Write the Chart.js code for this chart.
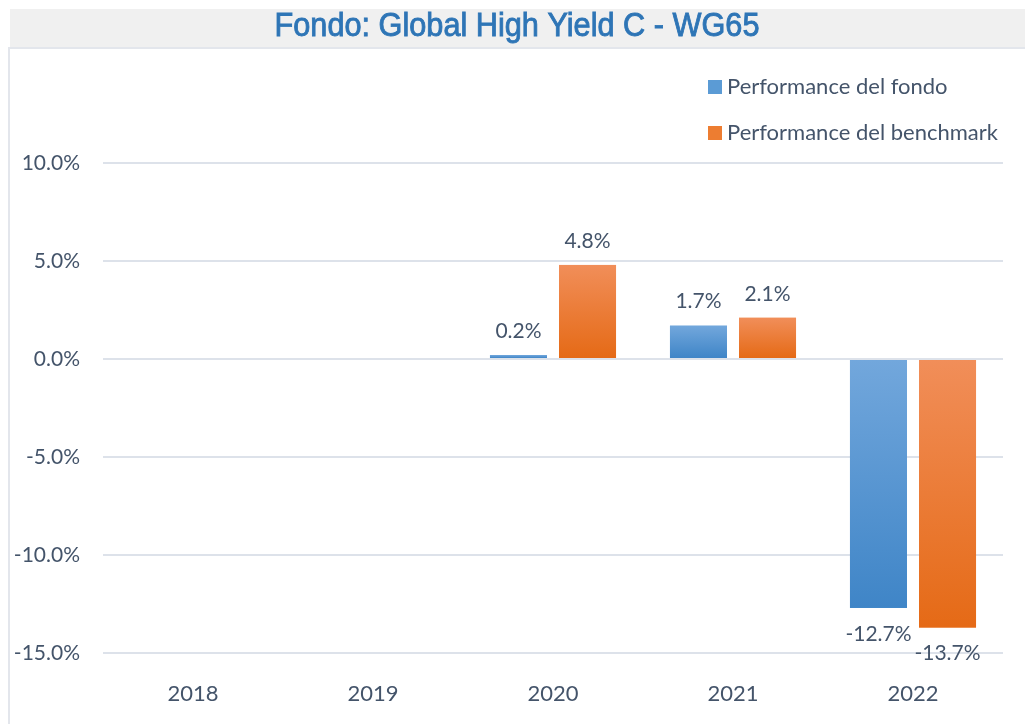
<!DOCTYPE html>
<html>
<head>
<meta charset="utf-8">
<script src="https://cdn.jsdelivr.net/npm/chart.js@4"></script>
<style>
  body { margin: 0; background: #fff; }
  #wrap { width: 1025px; height: 724px; }
</style>
</head>
<body>
<div id="wrap"><canvas id="grafico" width="1025" height="724"></canvas></div>
<script>
const anni = ['2018', '2019', '2020', '2021', '2022'];
const perfFondo = [null, null, 0.2, 1.7, -12.7];
const perfBenchmark = [null, null, 4.8, 2.1, -13.7];
const nomiSerie = ['Performance del fondo', 'Performance del benchmark'];
const titolo = 'Fondo: Global High Yield C - WG65';

const testo = '#44546a';
const blu = ['#72a7dc', '#3f85c7', '#5b9bd5'];
const arancio = ['#f18e59', '#e56a16', '#ed7d31'];

// sfondo: fascia del titolo (testo stretto) e bordo a sinistra
const sfondo = {
  id: 'sfondo',
  beforeDraw(chart) {
    const c = chart.ctx;
    c.save();
    c.fillStyle = '#fff';
    c.fillRect(0, 0, chart.width, chart.height);
    c.fillStyle = '#f0f0f0';
    c.fillRect(10, 9, chart.width - 10, 38);
    c.fillStyle = '#e3e6ec';
    c.fillRect(8, 47, chart.width - 8, 2);
    c.fillRect(8, 47, 2, chart.height - 47);
    // titolo, compresso in orizzontale come un font "narrow"
    c.font = '34px "Liberation Sans"';
    c.fillStyle = '#2e75b6';
    c.strokeStyle = '#2e75b6';
    c.lineWidth = 0.9;
    c.textAlign = 'center';
    c.textBaseline = 'middle';
    const w = c.measureText(titolo).width;
    c.translate(517, 27);
    c.scale(485 / w, 1);
    c.fillText(titolo, 0, 0);
    c.strokeText(titolo, 0, 0);
    c.restore();
  }
};

// sfumatura verticale di ogni barra + etichette dei valori
const barre = {
  id: 'barre',
  afterDatasetsDraw(chart) {
    const c = chart.ctx;
    c.save();
    chart.data.datasets.forEach((ds, i) => {
      const col = i === 0 ? blu : arancio;
      chart.getDatasetMeta(i).data.forEach((el, j) => {
        const v = ds.data[j];
        if (v === null) return;
        const p = el.getProps(['x', 'y', 'base', 'width'], true);
        const top = Math.min(p.y, p.base), bot = Math.max(p.y, p.base);
        const g = c.createLinearGradient(0, top, 0, bot);
        g.addColorStop(0, col[0]);
        g.addColorStop(1, col[1]);
        c.fillStyle = g;
        c.fillRect(p.x - p.width / 2, top, p.width, bot - top);
        c.fillStyle = testo;
        c.font = '21px Lato';
        c.textAlign = 'center';
        c.textBaseline = 'middle';
        const ty = v >= 0 ? p.y - 24 : p.y + 26;
        c.fillText(v.toFixed(1) + '%', p.x, ty);
      });
    });
    c.restore();
  }
};

// legenda verticale in alto a destra
const legenda = {
  id: 'legenda',
  afterDraw(chart) {
    const c = chart.ctx;
    c.save();
    c.font = '22px Lato';
    c.textBaseline = 'middle';
    c.textAlign = 'left';
    nomiSerie.forEach((n, i) => {
      const y = 87 + i * 46;
      c.fillStyle = (i === 0 ? blu : arancio)[2];
      c.fillRect(708, y - 7, 14, 14);
      c.fillStyle = testo;
      c.fillText(n, 727, y);
    });
    c.restore();
  }
};

new Chart(document.getElementById('grafico'), {
  type: 'bar',
  data: {
    labels: anni,
    datasets: [
      { label: nomiSerie[0], data: perfFondo, backgroundColor: blu[2] },
      { label: nomiSerie[1], data: perfBenchmark, backgroundColor: arancio[2] }
    ]
  },
  options: {
    responsive: false,
    animation: false,
    layout: { padding: { left: 0, right: 22, bottom: 0, top: 163 } },
    categoryPercentage: 0.767,
    barPercentage: 0.826,
    plugins: {
      legend: { display: false },
      tooltip: { enabled: false },
      title: { display: false }
    },
    scales: {
      x: {
        grid: { display: false },
        border: { display: false },
        ticks: { color: testo, font: { family: 'Lato', size: 22 }, padding: 20 },
        afterFit(s) { s.height = 71; }
      },
      y: {
        min: -15,
        max: 10,
        grid: { color: '#dde2ea', lineWidth: 2, drawTicks: false },
        border: { display: false },
        ticks: {
          stepSize: 5,
          color: testo,
          font: { family: 'Lato', size: 21 },
          padding: 23,
          callback: v => v.toFixed(1) + '%'
        },
        afterFit(s) { s.width = 103; }
      }
    }
  },
  plugins: [sfondo, barre, legenda]
});
</script>
</body>
</html>
